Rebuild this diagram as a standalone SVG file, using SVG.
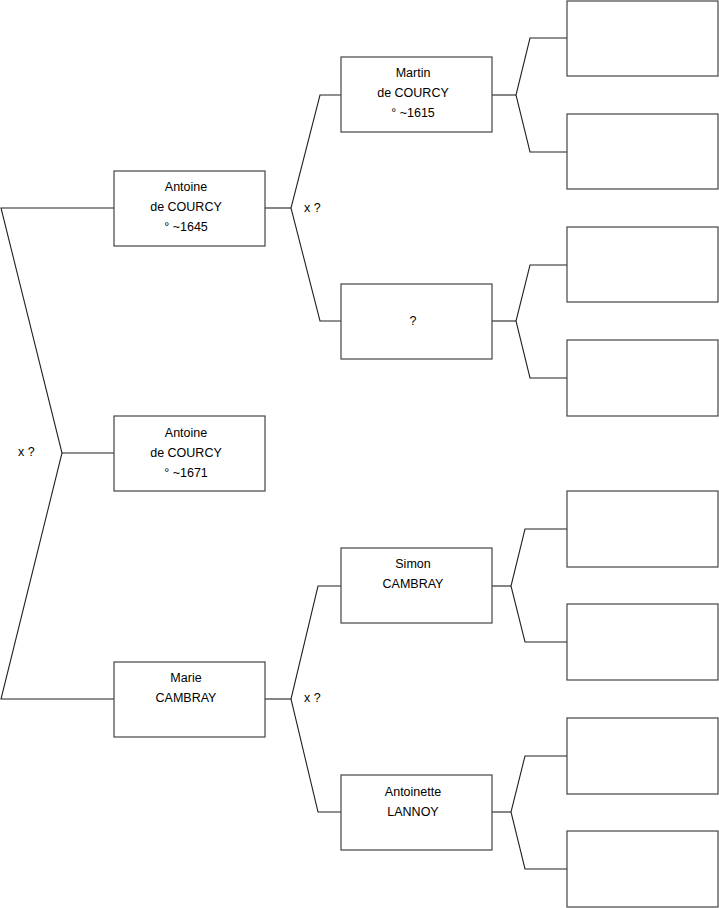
<svg xmlns="http://www.w3.org/2000/svg" width="719" height="908" viewBox="0 0 719 908">
<style>
.box{fill:#fff;stroke:#444;stroke-width:1.2}
.ln{fill:none;stroke:#222;stroke-width:1.1}
text{font-family:"Liberation Sans",Arial,sans-serif;font-size:12.5px;fill:#000}
.c{text-anchor:middle}
</style>
<rect width="719" height="908" fill="#fff"/>
<g id="connectors">
<polyline class="ln" points="114,208 1,208 62,453 1,699 114,699"/>
<line class="ln" x1="62" y1="453" x2="114" y2="453"/>
<line class="ln" x1="265" y1="208" x2="291" y2="208"/>
<polyline class="ln" points="341,95 320,95 291,208 320,321 341,321"/>
<line class="ln" x1="265" y1="699" x2="291" y2="699"/>
<polyline class="ln" points="341,586 318,586 291,699 318,812 341,812"/>
<line class="ln" x1="492" y1="95" x2="516" y2="95"/>
<polyline class="ln" points="567,38 530,38 516,95 530,152 567,152"/>
<line class="ln" x1="492" y1="321" x2="516" y2="321"/>
<polyline class="ln" points="567,265 530,265 516,321 530,378 567,378"/>
<line class="ln" x1="492" y1="586" x2="511" y2="586"/>
<polyline class="ln" points="567,529 525,529 511,586 525,642 567,642"/>
<line class="ln" x1="492" y1="812" x2="511" y2="812"/>
<polyline class="ln" points="567,756 525,756 511,812 525,869 567,869"/>
<text x="18" y="456">x ?</text>
<text x="304" y="212">x ?</text>
<text x="304" y="702">x ?</text>
</g>
<g id="n-antoine-1645">
<rect class="box" x="114" y="171" width="151" height="75"/>
<text class="c" x="186" y="191">Antoine</text>
<text class="c" x="186" y="211">de COURCY</text>
<text class="c" x="186" y="231">° ~1645</text>
</g>
<g id="n-antoine-1671">
<rect class="box" x="114" y="416" width="151" height="75"/>
<text class="c" x="186" y="437">Antoine</text>
<text class="c" x="186" y="457">de COURCY</text>
<text class="c" x="186" y="477">° ~1671</text>
</g>
<g id="n-marie">
<rect class="box" x="114" y="662" width="151" height="75"/>
<text class="c" x="186" y="682">Marie</text>
<text class="c" x="186" y="702">CAMBRAY</text>
</g>
<g id="n-martin">
<rect class="box" x="341" y="57" width="151" height="75"/>
<text class="c" x="413" y="77">Martin</text>
<text class="c" x="413" y="97">de COURCY</text>
<text class="c" x="413" y="117">° ~1615</text>
</g>
<g id="n-unknown">
<rect class="box" x="341" y="284" width="151" height="75"/>
<text class="c" x="413" y="325">?</text>
</g>
<g id="n-simon">
<rect class="box" x="341" y="548" width="151" height="75"/>
<text class="c" x="413" y="568">Simon</text>
<text class="c" x="413" y="588">CAMBRAY</text>
</g>
<g id="n-antoinette">
<rect class="box" x="341" y="775" width="151" height="75"/>
<text class="c" x="413" y="796">Antoinette</text>
<text class="c" x="413" y="816">LANNOY</text>
</g>
<g id="n-g3-1"><rect class="box" x="567" y="1" width="151" height="75"/></g>
<g id="n-g3-2"><rect class="box" x="567" y="114" width="151" height="75"/></g>
<g id="n-g3-3"><rect class="box" x="567" y="227" width="151" height="75"/></g>
<g id="n-g3-4"><rect class="box" x="567" y="340" width="151" height="76"/></g>
<g id="n-g3-5"><rect class="box" x="567" y="491" width="151" height="76"/></g>
<g id="n-g3-6"><rect class="box" x="567" y="604" width="151" height="76"/></g>
<g id="n-g3-7"><rect class="box" x="567" y="718" width="151" height="76"/></g>
<g id="n-g3-8"><rect class="box" x="567" y="831" width="151" height="76"/></g>
</svg>
